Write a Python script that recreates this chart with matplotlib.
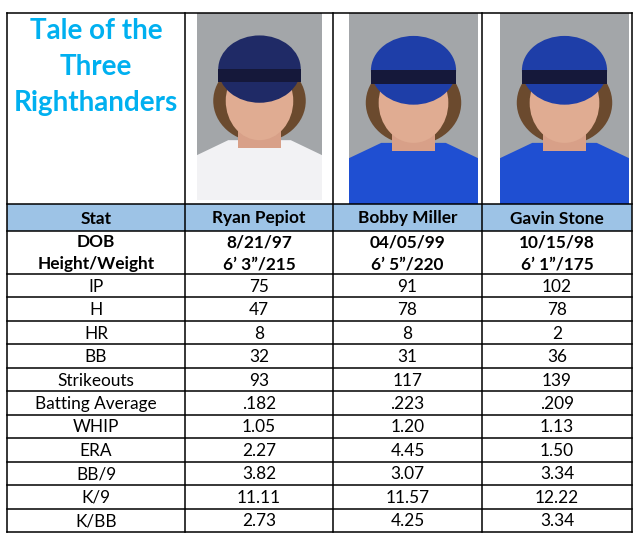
import matplotlib
matplotlib.use("Agg")
import matplotlib.pyplot as plt
from matplotlib.patches import Rectangle, Ellipse, Polygon

# ---- data ----
title_lines = ["Tale of the", "Three", "Righthanders"]
players = ["Ryan Pepiot", "Bobby Miller", "Gavin Stone"]
dob = ["8/21/97", "04/05/99", "10/15/98"]
height_weight = ["6\u2019 3\u201d/215", "6\u2019 5\u201d/220", "6\u2019 1\u201d/175"]
stats = ["IP", "H", "HR", "BB", "Strikeouts", "Batting Average", "WHIP", "ERA",
         "BB/9", "K/9", "K/BB"]
pepiot = ["75", "47", "8", "32", "93", ".182", "1.05", "2.27", "3.82", "11.11", "2.73"]
miller = ["91", "78", "8", "31", "117", ".223", "1.20", "4.45", "3.07", "11.57", "4.25"]
stone = ["102", "78", "2", "36", "139", ".209", "1.13", "1.50", "3.34", "12.22", "3.34"]
values = [pepiot, miller, stone]

# ---- layout (pixel coordinates) ----
W, H = 641, 540
fig = plt.figure(figsize=(W / 100, H / 100), dpi=100)
ax = fig.add_axes([0, 0, 1, 1])
ax.set_xlim(0, W)
ax.set_ylim(H, 0)
ax.axis("off")

FONT = "Lato"
cols = [7, 185, 333, 482, 632]
top, head_top, head_bot, dob_bot, bottom = 13, 204, 231, 274, 532
row_h = (bottom - dob_bot) / len(stats)
centers = [(cols[i] + cols[i + 1]) / 2 for i in range(4)]

# header fill
ax.add_patch(Rectangle((cols[0], head_top), cols[-1] - cols[0], head_bot - head_top,
                       facecolor="#9dc3e6", edgecolor="none", zorder=1))

# simplified portrait placeholders
photo_boxes = [(197, 13, 125, 187), (349, 13, 129, 191), (500, 13, 129, 191)]
jersey_cols = ["#f2f2f4", "#1f4fd2", "#1f4fd2"]
cap_cols = ["#1f2a66", "#1e3ea8", "#1e3ea8"]
for (x0, y0, w, h), jc, cc in zip(photo_boxes, jersey_cols, cap_cols):
    ax.add_patch(Rectangle((x0, y0), w, h, facecolor="#a3a6a9", edgecolor="none", zorder=1))
    cx = x0 + w / 2
    # jersey / shoulders
    ax.add_patch(Polygon([(x0, y0 + h), (x0, y0 + h * 0.76), (cx - w * 0.25, y0 + h * 0.68),
                          (cx + w * 0.25, y0 + h * 0.68), (x0 + w, y0 + h * 0.76),
                          (x0 + w, y0 + h)], closed=True, facecolor=jc, edgecolor="none", zorder=2))
    # hair
    ax.add_patch(Ellipse((cx, y0 + h * 0.47), w * 0.74, h * 0.44, facecolor="#6b4a2e",
                         edgecolor="none", zorder=2))
    # neck
    ax.add_patch(Rectangle((cx - w * 0.17, y0 + h * 0.5), w * 0.34, h * 0.22, facecolor="#d8a088",
                           edgecolor="none", zorder=3))
    # face
    ax.add_patch(Ellipse((cx, y0 + h * 0.47), w * 0.54, h * 0.42, facecolor="#e0ac92",
                         edgecolor="none", zorder=3))
    # cap
    ax.add_patch(Ellipse((cx, y0 + h * 0.3), w * 0.66, h * 0.36, facecolor=cc,
                         edgecolor="none", zorder=4))
    ax.add_patch(Rectangle((cx - w * 0.33, y0 + h * 0.3), w * 0.66, h * 0.07, facecolor="#15183a",
                           edgecolor="none", zorder=4))
ax.add_patch(Rectangle((197, 180), 125, 20, facecolor="#f2f2f4", edgecolor="none", zorder=2))

# grid lines
lw = 1.1
for x in cols:
    ax.plot([x, x], [top, bottom], color="black", lw=lw, zorder=5, solid_capstyle="projecting")
hlines = [top, head_top, head_bot, dob_bot] + [dob_bot + row_h * (i + 1) for i in range(len(stats))]
for y in hlines:
    ax.plot([cols[0], cols[-1]], [y, y], color="black", lw=lw, zorder=5, solid_capstyle="projecting")

# title
for i, t in enumerate(title_lines):
    ax.text(centers[0], 31 + 36 * i, t, ha="center", va="center", fontsize=20,
            fontweight="bold", color="#00b0f0", family=FONT, zorder=6)

fs = 12.4
# header
ax.text(centers[0], (head_top + head_bot) / 2 + 1, "Stat", ha="center", va="center",
        fontsize=fs, fontweight="bold", family=FONT, zorder=6)
for c, p in zip(centers[1:], players):
    ax.text(c, (head_top + head_bot) / 2 + 1, p, ha="center", va="center",
            fontsize=fs, fontweight="bold", family=FONT, zorder=6)

# DOB / Height-weight
ax.text(centers[0], 242, "DOB", ha="center", va="center", fontsize=fs, fontweight="bold",
        family=FONT, zorder=6)
ax.text(centers[0], 264, "Height/Weight", ha="center", va="center", fontsize=fs,
        fontweight="bold", family=FONT, zorder=6)
for c, d, hw in zip(centers[1:], dob, height_weight):
    ax.text(c, 242, d, ha="center", va="center", fontsize=fs, fontweight="bold",
            family=FONT, zorder=6)
    ax.text(c, 264, hw, ha="center", va="center", fontsize=fs, fontweight="bold",
            family=FONT, zorder=6)

# stat rows
for i, s in enumerate(stats):
    yc = dob_bot + row_h * (i + 0.5) + 1
    ax.text(centers[0], yc, s, ha="center", va="center", fontsize=fs, family=FONT, zorder=6)
    for c, vals in zip(centers[1:], values):
        ax.text(c, yc, vals[i], ha="center", va="center", fontsize=fs, family=FONT, zorder=6)

fig.savefig("out.png", dpi=100, facecolor="white")
